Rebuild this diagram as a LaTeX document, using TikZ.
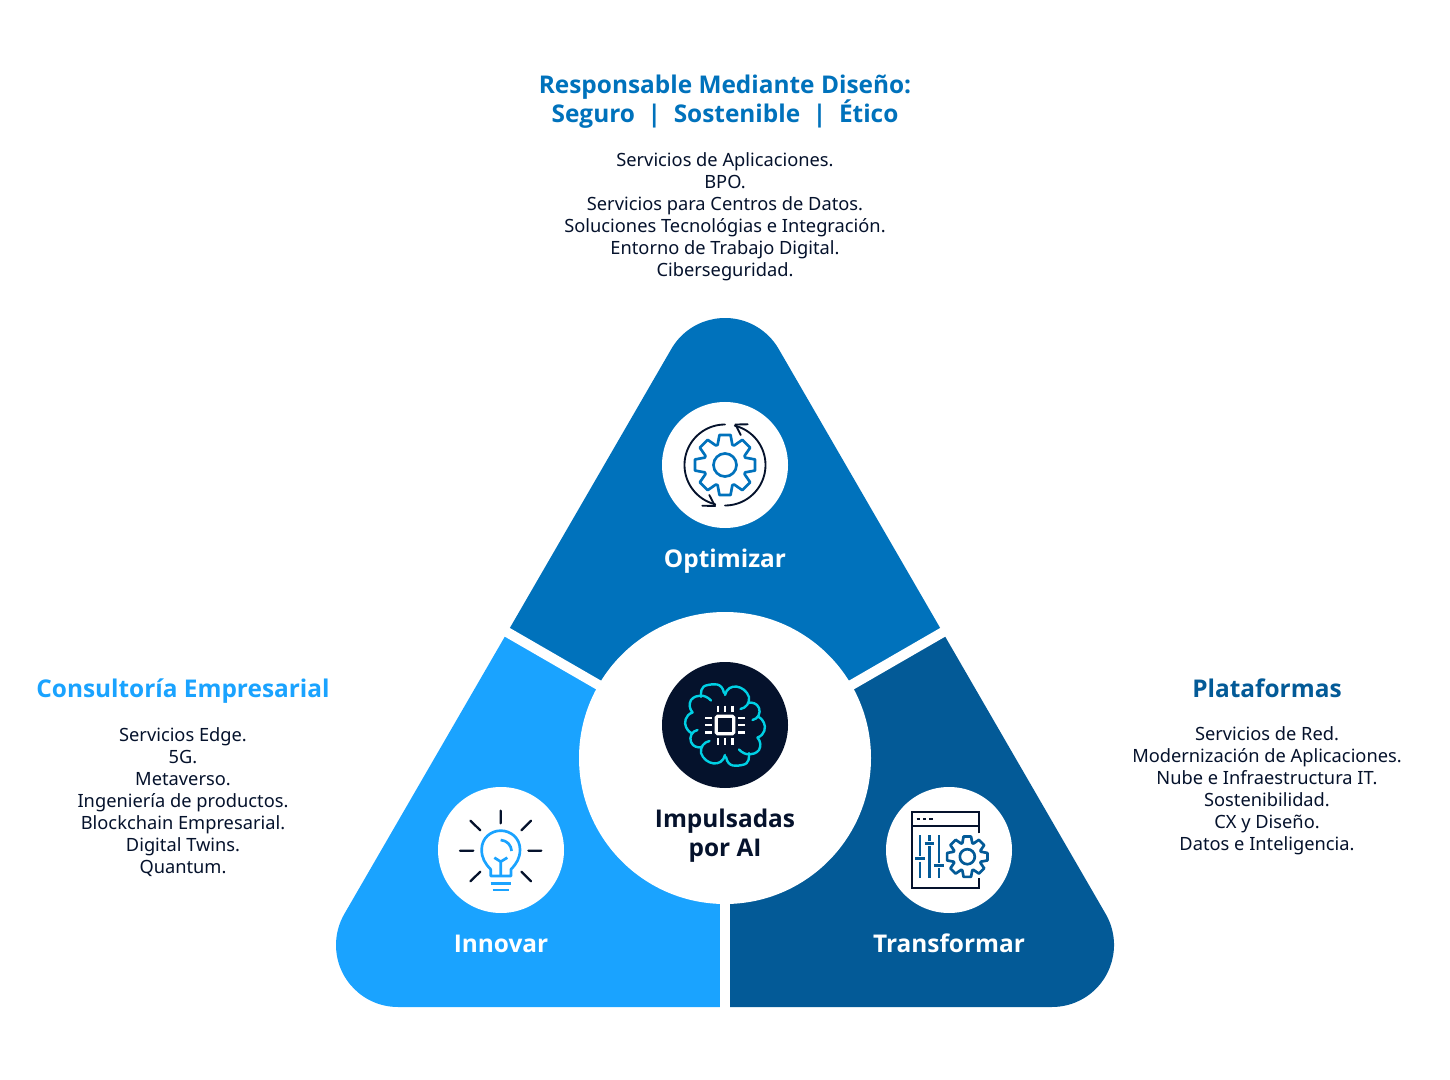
\documentclass[tikz,border=0pt]{standalone}
\usepackage{fontspec}
\setmainfont{Noto Sans}
\newfontfamily\heavyface{Open Sans}
\definecolor{cTop}{HTML}{0072BC}
\definecolor{cLeft}{HTML}{1AA3FF}
\definecolor{cRight}{HTML}{035A97}
\definecolor{cDark}{HTML}{05122C}
\definecolor{cCyan}{HTML}{00D0E4}
\newcommand{\gearpath}[4]{% Ro Ri tip-half base-half
  \foreach \gi in {0,45,...,315}{
    \ifnum\gi=0 (\gi-#4:#2)\else -- (\gi-#4:#2)\fi
    -- (\gi-#3:#1) -- (\gi+#3:#1) -- (\gi+#4:#2)
  } -- cycle}
\tikzset{
  x=0.75pt,y=-0.75pt,
  body/.style={align=center,font=\fontsize{13.7pt}{16.5pt}\selectfont,text=cDark,inner sep=0pt},
  headline/.style={align=center,font=\fontsize{18.3pt}{22.2pt}\selectfont\heavyface\bfseries,inner sep=0pt},
  seclabel/.style={font=\fontsize{18.3pt}{22.2pt}\selectfont\heavyface\bfseries,text=white,inner sep=0pt,anchor=base},
  iconcircle/.style={fill=white},
  darkline/.style={draw=cDark,line width=1.7pt,line cap=round,line join=round},
  darkthin/.style={draw=cDark,line width=1.4pt,line cap=round,line join=round},
  blueline/.style={draw=#1,line width=2pt,line join=round},
}
\begin{document}
\begin{tikzpicture}
\useasboundingbox (0,0) rectangle (1450,1080);
\fill[white] (0,0) rectangle (1450,1080);
% rounded triangle, three sectors
\begin{scope}
\clip (671.3,349) arc[start angle=210,end angle=330,radius=62] -- (1105.7,914)
  arc[start angle=-30,end angle=90,radius=62] -- (398,1007)
  arc[start angle=90,end angle=210,radius=62] -- cycle;
\fill[cTop] (725,758) -- (-141,258) -- (1591,258) -- cycle;
\fill[cLeft] (725,758) -- (-141,258) -- (-141,1100) -- (725,1100) -- cycle;
\fill[cRight] (725,758) -- (1591,258) -- (1591,1100) -- (725,1100) -- cycle;
\end{scope}
\draw[white,line width=7.5pt] (725,758) -- (725,1015);
\draw[white,line width=7.5pt] (725,758) -- (490,622.3);
\draw[white,line width=7.5pt] (725,758) -- (960,622.3);
\node[circle,fill=white,minimum size=219pt,inner sep=0pt] (hub) at (725,758) {};
\node[circle,iconcircle,minimum size=94.5pt,inner sep=0pt] (icontop) at (725,465) {};
\node[circle,fill=cDark,minimum size=94.5pt,inner sep=0pt] (iconhub) at (725,725) {};
\node[circle,iconcircle,minimum size=94.5pt,inner sep=0pt] (iconleft) at (501,850) {};
\node[circle,iconcircle,minimum size=94.5pt,inner sep=0pt] (iconright) at (949,850) {};

% top icon
\begin{scope}[shift={(725,465)}]
\draw[blueline=cTop] \gearpath{30.5}{21.5}{10.5}{20};
\draw[blueline=cTop] (0,0) circle[radius=11.5];
\draw[darkthin] plot[domain=-90:-256,samples=50] ({40.5*cos(\x)},{40.5*sin(\x)});
\draw[darkthin] (-22.7,40.7) -- (-10,41) -- (-15.7,30);
\draw[darkthin] plot[domain=90:-76,samples=50] ({40.5*cos(\x)},{40.5*sin(\x)});
\draw[darkthin] (22.7,-40.7) -- (10.5,-40.5) -- (15.7,-30);
\end{scope}

% hub icon: brain and chip
\begin{scope}[shift={(725,725)}]
\foreach \rr in {0,180}{
\begin{scope}[rotate=\rr,cCyan,line width=1.8pt,line cap=round,line join=round]
\draw[cCyan] (-1,-32) .. controls (-3,-43) and (-12,-41) .. (-17,-40) .. controls (-25,-39) and (-24,-32) .. (-24,-28);
\draw[cCyan] (-14,-24.5) .. controls (-20,-31) and (-29,-31) .. (-34,-25) .. controls (-36,-21) and (-36,-17) .. (-32.5,-12.5);
\draw[cCyan] (-32.5,-12.5) .. controls (-40,-10) and (-41,-2) .. (-39,2) .. controls (-37,6) and (-35,7.5) .. (-33,8.5);
\draw[cCyan] (-27.5,5) .. controls (-33,6) and (-36,12) .. (-34,17) .. controls (-32,22) and (-27,23) .. (-23,22);
\draw[cCyan] (-15.5,16) .. controls (-21,17) and (-25,22) .. (-24,28) .. controls (-20,40) and (-3,43) .. (0,30);
\end{scope}}
\draw[white,line width=2.4pt,rounded corners=1pt] (-8.7,-8.7) rectangle (8.7,8.7);
\foreach \pp in {-7.3,0,7.3}{
  \draw[white,line width=1.8pt] (\pp,-19.5) -- (\pp,-13);
  \draw[white,line width=1.8pt] (\pp,19.5) -- (\pp,13);
  \draw[white,line width=1.8pt] (-20,\pp) -- (-13,\pp);
  \draw[white,line width=1.8pt] (20,\pp) -- (13,\pp);
}
\end{scope}

% bulb icon
\begin{scope}[shift={(430,780)},x=0.25pt,y=-0.25pt]
\draw[blueline=cLeft,line cap=round] (182,288) -- (182,268) .. controls (165,250) and (155,235) .. (155,208)
  .. controls (155,175) and (182,152) .. (212,152) .. controls (243,152) and (270,175) .. (270,208)
  .. controls (270,235) and (260,250) .. (243,268) -- (243,288) -- cycle;
\draw[blueline=cLeft] (212,288) -- (212,245) (193,233) -- (212,245) -- (232,233);
\draw[blueline=cLeft] (212,180) .. controls (232,182) and (243,195) .. (245,213);
\draw[blueline=cLeft] (182,310) -- (243,310) (188,330) -- (237,330);
\draw[darkline] (212,92) -- (212,130) (90,212) -- (130,212) (295,212) -- (334,212)
  (121,122) -- (151,151) (303,122) -- (274,151) (121,304) -- (151,275) (303,304) -- (274,275);
\end{scope}

% panel icon
\begin{scope}[shift={(880,780)},x=0.25pt,y=-0.25pt]
\draw[cDark,line width=1.5pt,line join=miter] (297,160) -- (297,97) -- (95,97) -- (95,323) -- (297,323) -- (297,293);
\draw[cDark,line width=1.5pt] (95,137) -- (297,137);
\draw[cDark,line width=1.5pt] (110,117) -- (120,117) (129,117) -- (139,117) (148,117) -- (158,117);
\begin{scope}[cRight,line width=2pt]
\draw[cRight] (120,165) -- (120,228) (120,245) -- (120,293) (105,236) -- (134,236);
\draw[cRight] (148,165) -- (148,183) (148,197) -- (148,293) (134,190) -- (163,190);
\draw[cRight] (177,165) -- (177,250) (177,265) -- (177,293) (163,257) -- (192,257);
\end{scope}
\end{scope}
\begin{scope}[shift={(967.3,856.7)}]
\draw[blueline=cRight] \gearpath{20.5}{14.5}{10.5}{20};
\draw[blueline=cRight] (0,0) circle[radius=7.5];
\end{scope}

% texts
\node[headline,text=cTop] (title) at (725,101.5) {Responsable Mediante Diseño:\\Seguro\ \ |\ \ Sostenible\ \ |\ \ Ético};
\node[body] (toplist) at (725,216.5) {Servicios de Aplicaciones.\\BPO.\\Servicios para Centros de Datos.\\Soluciones Tecnológias e Integración.\\Entorno de Trabajo Digital.\\Ciberseguridad.};
\node[headline,text=cLeft,anchor=base] (lefttitle) at (183,697) {Consultoría Empresarial};
\node[body] (leftlist) at (183,802) {Servicios Edge.\\5G.\\Metaverso.\\Ingeniería de productos.\\Blockchain Empresarial.\\Digital Twins.\\Quantum.};
\node[headline,text=cRight,anchor=base] (righttitle) at (1267,697) {Plataformas};
\node[body] (rightlist) at (1267,791) {Servicios de Red.\\Modernización de Aplicaciones.\\Nube e Infraestructura IT.\\Sostenibilidad.\\CX y Diseño.\\Datos e Inteligencia.};
\node[seclabel] (optlabel) at (725,567) {Optimizar};
\node[seclabel] (innlabel) at (501,952) {Innovar};
\node[seclabel] (trlabel) at (949,952) {Transformar};
\node[headline,text=cDark] (hublabel) at (725,835.5) {Impulsadas\\por AI};
\end{tikzpicture}
\end{document}
